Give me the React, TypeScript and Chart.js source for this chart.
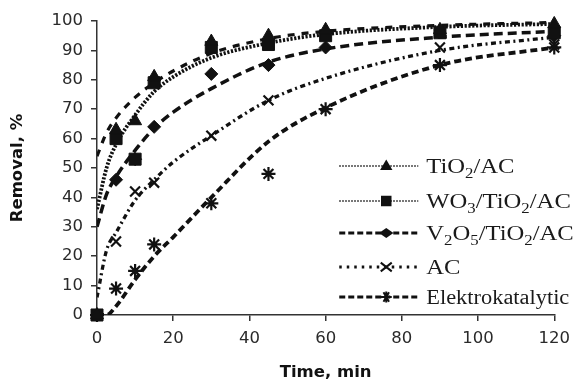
import { useEffect, useRef } from 'react';
import { Chart, registerables } from 'chart.js';

Chart.register(...registerables);

// Measured samples (time, min -> removal, %)
const sampleTimes = [0, 5, 10, 15, 30, 45, 60, 90, 120];
const tio2Removal = [0, 63, 66, 81, 93, 95, 97, 97, 99];
const wo3Removal = [0, 60, 53, 79, 91, 92, 95, 96, 96];
const v2o5Removal = [0, 46, 53, 64, 82, 85, 91, null, 95];
const acRemoval = [0, 25, 42, 45, 61, 73, null, 91, 92];
const elektroRemoval = [0, 9, 15, 24, 38, 48, 70, 85, 91];

// Fitted curves
const fitTimes = [0, 2.5, 5, 10, 15, 20, 30, 45, 60, 90, 120];
const tio2Fit = [54, 62, 67, 74, 79, 83, 89, 94, 96.5, 98.5, 99.5];
const wo3Fit = [36, 50, 58, 68, 76, 81, 87.5, 92.5, 95.5, 98, 99];
const v2o5Fit = [30, 41, 47, 56, 63.5, 69, 77, 86, 90.5, 94.5, 96.5];
const acFit = [6, 22, 28, 39, 46, 52, 61, 73, 80.5, 90, 94.5];
const elektroFit = [0, 0, 3, 12, 20, 26.5, 40, 59, 70.5, 85, 91];

const seriesLabels = ['TiO_2/AC', 'WO_3/TiO_2/AC', 'V_2O_5/TiO_2/AC', 'AC', 'Elektrokatalytic'];
const xTitle = 'Time, min';
const yTitle = 'Removal, %';

const INK = '#111';

type Style = {
  point: string;
  radius: number;
  curveDash: number[];
  curveWidth: number;
  legendDash: number[];
  legendWidth: number;
  legendRadius: number;
  fontSize: number;
};

const styles: Style[] = [
  { point: 'triangle', radius: 7.5, curveDash: [7, 7], curveWidth: 3.2, legendDash: [1.5, 1.5], legendWidth: 1.6, legendRadius: 6.5, fontSize: 22 },
  { point: 'rect', radius: 8.5, curveDash: [2.2, 1.6], curveWidth: 3.8, legendDash: [1.5, 1.5], legendWidth: 1.6, legendRadius: 7, fontSize: 22 },
  { point: 'rectRot', radius: 6.5, curveDash: [9, 5], curveWidth: 3.5, legendDash: [6, 3], legendWidth: 3, legendRadius: 6, fontSize: 22 },
  { point: 'crossRot', radius: 7, curveDash: [5, 3.5, 2, 3.5], curveWidth: 3.3, legendDash: [2.5, 5], legendWidth: 3, legendRadius: 5.5, fontSize: 22 },
  { point: 'star', radius: 7, curveDash: [7, 4], curveWidth: 3.8, legendDash: [6, 3], legendWidth: 3, legendRadius: 5.5, fontSize: 20 },
];

const sampleSeries = [tio2Removal, wo3Removal, v2o5Removal, acRemoval, elektroRemoval];
const fitSeries = [tio2Fit, wo3Fit, v2o5Fit, acFit, elektroFit];

function drawMarker(ctx: CanvasRenderingContext2D, style: string, x: number, y: number, r: number) {
  ctx.save();
  ctx.fillStyle = INK;
  ctx.strokeStyle = INK;
  ctx.lineWidth = 2;
  ctx.setLineDash([]);
  ctx.beginPath();
  if (style === 'triangle') {
    ctx.moveTo(x, y - r);
    ctx.lineTo(x + r * 0.95, y + r * 0.6);
    ctx.lineTo(x - r * 0.95, y + r * 0.6);
    ctx.closePath();
    ctx.fill();
  } else if (style === 'rect') {
    ctx.rect(x - r * 0.75, y - r * 0.75, r * 1.5, r * 1.5);
    ctx.fill();
  } else if (style === 'rectRot') {
    ctx.moveTo(x - r * 1.2, y);
    ctx.lineTo(x, y - r * 0.85);
    ctx.lineTo(x + r * 1.2, y);
    ctx.lineTo(x, y + r * 0.85);
    ctx.closePath();
    ctx.fill();
  } else if (style === 'crossRot') {
    ctx.moveTo(x - r, y - r * 0.8);
    ctx.lineTo(x + r, y + r * 0.8);
    ctx.moveTo(x + r, y - r * 0.8);
    ctx.lineTo(x - r, y + r * 0.8);
    ctx.stroke();
  } else {
    for (let k = 0; k < 3; k++) {
      const a = (Math.PI / 3) * k;
      ctx.moveTo(x + Math.cos(a) * r, y + Math.sin(a) * r);
      ctx.lineTo(x - Math.cos(a) * r, y - Math.sin(a) * r);
    }
    ctx.moveTo(x, y - r);
    ctx.lineTo(x, y + r);
    ctx.stroke();
  }
  ctx.restore();
}

function parseLabel(label: string) {
  const parts: { text: string; sub: boolean }[] = [];
  let i = 0;
  let buf = '';
  while (i < label.length) {
    if (label[i] === '_' && i + 1 < label.length) {
      if (buf) parts.push({ text: buf, sub: false });
      buf = '';
      parts.push({ text: label[i + 1], sub: true });
      i += 2;
    } else {
      buf += label[i];
      i += 1;
    }
  }
  if (buf) parts.push({ text: buf, sub: false });
  return parts;
}

const legendPlugin = {
  id: 'subscriptLegend',
  afterDraw(chart: any) {
    const ctx: CanvasRenderingContext2D = chart.ctx;
    const area = chart.chartArea;
    const lineX0 = area.right - 215;
    const lineX1 = area.right - 136;
    const markX = area.right - 168;
    const textX = area.right - 128;
    const rowY = [area.top + 145, area.top + 180, area.top + 212, area.top + 246, area.top + 276];
    seriesLabels.forEach((label, i) => {
      const st = styles[i];
      const y = rowY[i];
      ctx.save();
      ctx.strokeStyle = INK;
      ctx.lineWidth = st.legendWidth;
      ctx.setLineDash(st.legendDash);
      ctx.beginPath();
      ctx.moveTo(lineX0, y);
      ctx.lineTo(lineX1, y);
      ctx.stroke();
      ctx.restore();
      drawMarker(ctx, st.point, markX, y, st.legendRadius);

      ctx.save();
      ctx.translate(textX, y + 7);
      ctx.scale(1.12, 1);
      ctx.fillStyle = '#1a1a1a';
      ctx.textBaseline = 'alphabetic';
      ctx.textAlign = 'left';
      let x = 0;
      for (const p of parseLabel(label)) {
        if (p.sub) {
          ctx.font = `${Math.round(st.fontSize * 0.66)}px "Liberation Serif"`;
          ctx.fillText(p.text, x, 5);
        } else {
          ctx.font = `${st.fontSize}px "Liberation Serif"`;
          ctx.fillText(p.text, x, 0);
        }
        x += ctx.measureText(p.text).width;
      }
      ctx.restore();
    });
  },
};

export default function App() {
  const ref = useRef<HTMLCanvasElement | null>(null);

  useEffect(() => {
    if (!ref.current) return;
    const fitSets = fitSeries.map((vals, i) => ({
      type: 'line' as const,
      label: seriesLabels[i] + ' fit',
      data: fitTimes.map((t, k) => ({ x: t, y: vals[k] })),
      borderColor: INK,
      borderWidth: styles[i].curveWidth,
      borderDash: styles[i].curveDash,
      pointRadius: 0,
      fill: false,
      cubicInterpolationMode: 'monotone' as const,
      order: 2,
    }));
    const pointSets = sampleSeries.map((vals, i) => ({
      type: 'scatter' as const,
      label: seriesLabels[i],
      data: sampleTimes
        .map((t, k) => ({ x: t, y: vals[k] }))
        .filter((p) => p.y !== null),
      pointStyle: styles[i].point,
      pointRadius: styles[i].radius,
      backgroundColor: INK,
      borderColor: INK,
      borderWidth: styles[i].point === 'crossRot' || styles[i].point === 'star' ? 2.2 : 1,
      showLine: false,
      clip: false,
      order: 1,
    }));

    const tickFont = { family: '"DejaVu Sans"', size: 16.5 };
    const titleFont = { family: '"DejaVu Sans"', size: 16.5, weight: 'bold' as const };

    const chart = new Chart(ref.current, {
      type: 'scatter',
      data: { datasets: [...fitSets, ...pointSets] as any },
      options: {
        animation: false,
        responsive: false,
        maintainAspectRatio: false,
        layout: { padding: { top: 21, right: 23, left: 0, bottom: 0 } },
        plugins: { legend: { display: false }, tooltip: { enabled: false } },
        scales: {
          x: {
            type: 'linear',
            min: 0,
            max: 120,
            ticks: { stepSize: 20, color: '#2a2a2a', font: tickFont, padding: 8 },
            grid: { drawOnChartArea: false, drawTicks: true, tickLength: 6, color: '#333', lineWidth: 1.5 },
            border: { color: '#333', width: 1.5 },
            title: { display: true, text: xTitle, color: '#111', font: titleFont, padding: { top: 0, bottom: 0 } },
            afterFit: (s: any) => {
              s.height = 68;
            },
          },
          y: {
            type: 'linear',
            min: 0,
            max: 100,
            ticks: { stepSize: 10, color: '#2a2a2a', font: tickFont, padding: 8 },
            grid: { drawOnChartArea: false, drawTicks: true, tickLength: 6, color: '#333', lineWidth: 1.5 },
            border: { color: '#333', width: 1.5 },
            title: { display: true, text: yTitle, color: '#111', font: titleFont, padding: { top: 8, bottom: 0 } },
            afterFit: (s: any) => {
              s.width = 97;
            },
          },
        },
      },
      plugins: [legendPlugin],
    });
    return () => chart.destroy();
  }, []);

  return (
    <div style={{ position: 'absolute', left: 0, top: 0, width: 578, height: 383, background: '#fff' }}>
      <canvas ref={ref} width={578} height={383} style={{ display: 'block' }} />
    </div>
  );
}
